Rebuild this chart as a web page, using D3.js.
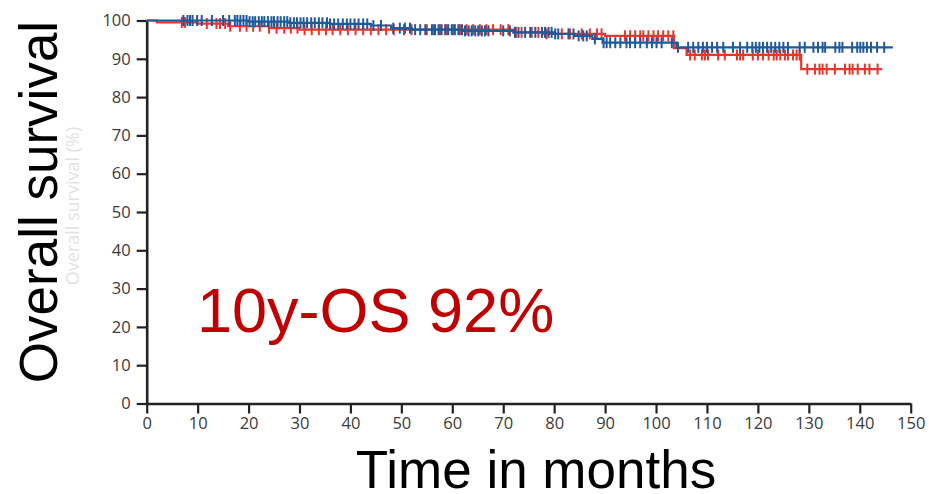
<!DOCTYPE html>
<html>
<head>
<meta charset="utf-8">
<script src="https://cdn.jsdelivr.net/npm/d3@7"></script>
<style>
  html, body { margin: 0; padding: 0; background: #fff; }
  svg { display: block; }
</style>
</head>
<body>
<svg id="chart" width="929" height="494"></svg>
<script>
// Kaplan-Meier steps: [time in months, survival %]
const blueSteps = [
  [0, 100], [20, 99.7], [28, 99.4], [36, 99.1], [44, 98.7], [48, 98.0],
  [52, 97.6], [62, 97.3], [72, 96.9], [80, 96.5], [84, 96.0], [87.5, 95.2],
  [89.5, 94.2], [104, 93.0]
];
const blueEnd = 146.5;
const redSteps = [
  [0, 100], [2, 99.5], [10, 99.2], [16, 98.5], [24, 98.0], [30, 97.6],
  [72, 96.9], [78, 96.5], [90, 96.0], [103.5, 92.8], [106, 91.0], [128.5, 87.3]
];
const redEnd = 144.4;

// Censored observations (months)
const blueCensored = [
  7.2, 8.0, 8.5, 9.0, 9.9, 10.8, 12.8, 15.0, 16.2, 17.3, 17.8, 18.4, 19.0, 19.6,
  20.2, 20.8, 21.3, 22.0, 22.6, 23.1, 23.8, 24.5, 25.0, 25.7, 26.3, 27.0, 27.6,
  28.2, 28.9, 29.5, 30.2, 30.8, 31.5, 32.3, 33.0, 33.8, 34.5, 35.4, 36.0, 36.8,
  37.6, 38.5, 39.3, 40.0, 40.8, 41.6, 42.5, 43.3, 44.5, 46.0, 48.4, 49.7, 50.7,
  51.7, 52.7, 53.7, 54.7, 56.0, 56.6, 57.3, 57.9, 58.6, 59.2, 59.9, 60.5, 61.2,
  61.9, 62.5, 63.2, 63.8, 64.5, 65.1, 65.8, 66.4, 67.1, 70.0, 71.3, 72.3, 73.0,
  74.3, 75.3, 76.3, 77.6, 78.2, 78.9, 79.5, 80.2, 80.8, 82.8, 83.8, 84.8, 85.7,
  86.4, 88.0, 89.7, 90.3, 91.0, 92.0, 93.0, 94.2, 94.9, 95.9, 96.9, 98.2, 99.2,
  100.1, 101.1, 103.1, 104.3, 106.3, 107.3, 108.3, 109.2, 110.0, 111.0, 112.0,
  113.2, 115.1, 116.5, 117.9, 118.9, 119.6, 120.3, 121.0, 121.8, 122.6, 123.4,
  124.2, 125.0, 125.9, 128.2, 129.2, 130.9, 131.8, 132.7, 133.2, 135.2, 136.0,
  136.6, 138.5, 139.5, 140.1, 140.7, 141.4, 142.2, 143.4, 144.8
];
const redCensored = [
  6.9, 7.5, 11.8, 13.7, 14.4, 15.4, 16.4, 18.3, 19.6, 20.9, 22.2, 24.0, 25.5,
  27.0, 28.3, 29.6, 31.0, 32.4, 33.8, 35.2, 36.5, 38.0, 39.5, 41.0, 42.5, 44.0,
  45.5, 47.0, 48.5, 50.5, 52.0, 55.0, 56.3, 57.6, 58.9, 60.2, 61.5, 62.8, 64.1,
  65.4, 66.7, 68.0, 69.5, 71.0, 72.5, 73.6, 75.6, 76.9, 78.5, 81.5, 83.1, 85.4,
  87.0, 88.4, 89.3, 93.9, 94.9, 95.9, 96.9, 97.5, 98.5, 99.5, 100.4, 101.4,
  102.4, 103.4, 106.7, 107.6, 109.0, 109.6, 110.2, 112.2, 113.5, 115.9, 116.5,
  117.1, 119.0, 120.0, 121.0, 122.1, 123.1, 123.7, 124.4, 125.3, 125.9, 126.9,
  127.6, 128.2, 129.7, 131.2, 132.1, 132.7, 133.5, 135.1, 137.1, 138.0, 138.6,
  139.6, 141.0, 141.9, 143.5
];

const xTicks = d3.range(0, 151, 10);
const yTicks = d3.range(0, 101, 10);

const svg = d3.select("#chart");
const x = d3.scaleLinear().domain([0, 150]).range([146.7, 910.7]);
const y = d3.scaleLinear().domain([0, 100]).range([403.5, 20.5]);

const axisColor = "#222";
const tickFont = "'Open Sans', 'DejaVu Sans', sans-serif";

// Y axis
const yAxis = svg.append("g")
  .attr("transform", `translate(${x(0)},0)`)
  .call(d3.axisLeft(y).tickValues(yTicks).tickSize(10).tickPadding(6).tickSizeOuter(0));
// X axis
const xAxis = svg.append("g")
  .attr("transform", `translate(0,${y(0)})`)
  .call(d3.axisBottom(x).tickValues(xTicks).tickSize(10).tickPadding(4).tickSizeOuter(0));

[yAxis, xAxis].forEach(g => {
  g.select(".domain").attr("stroke", axisColor).attr("stroke-width", 2.6);
  g.selectAll(".tick line").attr("stroke", axisColor).attr("stroke-width", 2.2);
  g.selectAll(".tick text")
    .attr("fill", "#3a3a3a")
    .style("font-family", tickFont)
    .style("font-size", "16.5px");
});

// Survival value at time t for a step table
function survAt(steps, t) {
  let s = steps[0][1];
  for (const [tt, v] of steps) { if (tt <= t) s = v; else break; }
  return s;
}

const line = d3.line()
  .x(d => x(d[0]))
  .y(d => y(d[1]))
  .curve(d3.curveStepAfter);

function drawGroup(steps, end, censored, color) {
  const pts = steps.concat([[end, steps[steps.length - 1][1]]]);
  const g = svg.append("g");
  g.append("path")
    .datum(pts)
    .attr("d", line)
    .attr("fill", "none")
    .attr("stroke", color)
    .attr("stroke-width", 2.2);
  g.selectAll("line.cens")
    .data(censored)
    .join("line")
    .attr("class", "cens")
    .attr("x1", d => x(d)).attr("x2", d => x(d))
    .attr("y1", d => y(survAt(steps, d)) - 5.5)
    .attr("y2", d => y(survAt(steps, d)) + 5.5)
    .attr("stroke", color)
    .attr("stroke-width", 2);
}

drawGroup(redSteps, redEnd, redCensored, "#e8352b");
drawGroup(blueSteps, blueEnd, blueCensored, "#1d5a9c");

// Faint original axis caption
svg.append("text")
  .attr("transform", "translate(79,206) rotate(-90)")
  .attr("text-anchor", "middle")
  .attr("fill", "#e2e2e2")
  .style("font-family", tickFont)
  .style("font-size", "18px")
  .text("Overall survival (%)");

// Large titles
const bigFont = "'Liberation Sans', Arial, sans-serif";
svg.append("text")
  .attr("transform", "translate(57,202) rotate(-90)")
  .attr("text-anchor", "middle")
  .attr("fill", "#000")
  .style("font-family", bigFont)
  .style("font-size", "53px")
  .text("Overall survival");

svg.append("text")
  .attr("x", 536)
  .attr("y", 488)
  .attr("text-anchor", "middle")
  .attr("fill", "#000")
  .style("font-family", bigFont)
  .style("font-size", "53px")
  .text("Time in months");

svg.append("text")
  .attr("x", 197)
  .attr("y", 332)
  .attr("fill", "#c00000")
  .style("font-family", bigFont)
  .style("font-size", "63px")
  .text("10y-OS 92%");
</script>
</body>
</html>
